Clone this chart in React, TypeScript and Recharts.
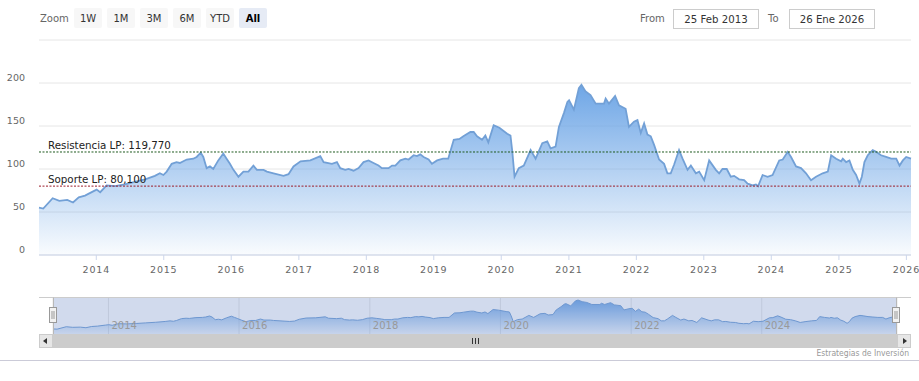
import {
    AreaChart,
    Area,
    XAxis,
    YAxis,
    CartesianGrid,
    ReferenceLine,
    ReferenceArea,
} from "recharts";

const dates = [
    "2013-02-25", "2013-03-20", "2013-05-10", "2013-06-15", "2013-07-28", "2013-08-28", "2013-09-28", "2013-11-01", "2013-12-15",
    "2014-01-03", "2014-01-22", "2014-02-26", "2014-04-12", "2014-06-05", "2014-07-28", "2014-09-22", "2014-11-14", "2014-12-11", "2014-12-30",
    "2015-01-17", "2015-02-13", "2015-03-11", "2015-03-29", "2015-05-05", "2015-06-10", "2015-06-28", "2015-07-20", "2015-08-03", "2015-08-21",
    "2015-09-08", "2015-09-26", "2015-10-23", "2015-11-19", "2015-12-07", "2015-12-25",
    "2016-01-13", "2016-02-09", "2016-03-07", "2016-04-03", "2016-04-30", "2016-05-19", "2016-06-24", "2016-07-12", "2016-08-17", "2016-10-10",
    "2016-11-06", "2016-12-03",
    "2017-01-10", "2017-03-04", "2017-04-27", "2017-05-15", "2017-06-29", "2017-07-26", "2017-08-13", "2017-09-09", "2017-09-27", "2017-10-24",
    "2017-11-20", "2017-12-17",
    "2018-01-13", "2018-02-09", "2018-03-08", "2018-03-26", "2018-05-01", "2018-05-20", "2018-06-07", "2018-07-04", "2018-07-31", "2018-08-18",
    "2018-09-14", "2018-10-02", "2018-10-20", "2018-11-07", "2018-12-04", "2018-12-22",
    "2019-01-19", "2019-02-20", "2019-03-20", "2019-04-19", "2019-05-20", "2019-06-10", "2019-07-18", "2019-08-05", "2019-08-23", "2019-09-19",
    "2019-10-07", "2019-10-23", "2019-11-21", "2019-12-22",
    "2020-02-02", "2020-02-20", "2020-03-01", "2020-03-13", "2020-04-05", "2020-05-02", "2020-06-08", "2020-07-05", "2020-08-10", "2020-09-06",
    "2020-09-24", "2020-10-21", "2020-11-08", "2020-12-05", "2020-12-24",
    "2021-01-02", "2021-01-28", "2021-02-24", "2021-03-10", "2021-04-02", "2021-04-28", "2021-05-26", "2021-07-10", "2021-07-19", "2021-08-06",
    "2021-09-08", "2021-09-29", "2021-11-04", "2021-11-22", "2021-12-19",
    "2022-01-07", "2022-01-25", "2022-02-12", "2022-03-02", "2022-03-20", "2022-04-07", "2022-05-04", "2022-05-31", "2022-06-18", "2022-07-06",
    "2022-07-24", "2022-08-20", "2022-09-08", "2022-10-05", "2022-10-23", "2022-11-19", "2022-12-07",
    "2023-01-03", "2023-01-30", "2023-03-07", "2023-03-25", "2023-04-12", "2023-05-05", "2023-05-27", "2023-06-14", "2023-07-11", "2023-08-07",
    "2023-08-26", "2023-09-22", "2023-10-10", "2023-10-22", "2023-11-15", "2023-12-12",
    "2024-01-08", "2024-02-13", "2024-03-03", "2024-03-30", "2024-04-17", "2024-05-14", "2024-06-10", "2024-07-07", "2024-08-03", "2024-08-30",
    "2024-10-05", "2024-11-02", "2024-11-20", "2024-12-17",
    "2025-01-13", "2025-01-22", "2025-02-09", "2025-02-27", "2025-03-17", "2025-04-04", "2025-04-22", "2025-05-05", "2025-05-19", "2025-06-06",
    "2025-07-03", "2025-07-21", "2025-08-17", "2025-09-13", "2025-10-11", "2025-11-07", "2025-11-25", "2025-12-13", "2025-12-31",
    "2026-01-26",
];

const prices = [
    55, 54, 66, 63, 64, 61, 67, 69, 74,
    76, 73, 81, 80, 82, 85, 88, 92, 95, 93,
    97, 106, 108, 107, 111, 112, 114, 119, 114, 101,
    103, 100, 110, 118, 112, 106,
    99, 91, 97, 97, 104, 99, 99, 97, 95, 92,
    94, 103,
    109, 110, 115, 108, 106, 108, 101, 99, 100, 98,
    101, 108,
    110, 107, 104, 101, 101, 104, 104, 110, 112, 111,
    116, 115, 117, 114, 111, 106,
    110, 112, 112, 134, 135, 138, 143, 143, 138, 134,
    139, 131, 151, 148,
    141, 139, 120, 91, 101, 104, 122, 112, 130, 132,
    124, 126, 149, 165, 178,
    180, 169, 194, 198, 190, 186, 176, 176, 182, 176,
    185, 174, 170, 149, 155,
    157, 142, 153, 140, 138, 128, 111, 106, 95, 95,
    105, 122, 112, 99, 104, 95, 97,
    87, 110, 99, 95, 100, 100, 91, 92, 88, 87,
    83, 81, 82, 80, 93, 91,
    93, 110, 111, 120, 114, 103, 101, 95, 87, 91,
    95, 97, 116, 112,
    109, 112, 108, 110, 99, 93, 83, 91, 108, 116,
    122, 120, 116, 114, 112, 112, 104, 110, 114,
    112,
];

const yearTicks = [2014, 2015, 2016, 2017, 2018, 2019, 2020, 2021, 2022, 2023, 2024, 2025, 2026];
const navYears = [2014, 2016, 2018, 2020, 2022, 2024];
const yTicks = [0, 50, 100, 150, 200, 250];
const zoomButtons = ["1W", "1M", "3M", "6M", "YTD", "All"];

const resistance = 119.77;
const support = 80.1;
const fromLabel = "25 Feb 2013";
const toLabel = "26 Ene 2026";

const data = dates.map((d, i) => ({ t: Date.parse(d), v: prices[i] }));
const startTs = data[0].t;
const endTs = data[data.length - 1].t;
const yearTs = yearTicks.map((y) => Date.UTC(y, 0, 1));
const navTs = navYears.map((y) => Date.UTC(y, 0, 1));

const FONT = "'DejaVu Sans', Verdana, sans-serif";

const YTick = (props: any) => {
    const { y, payload } = props;
    if (payload.value === 250) return <g />;
    return (
        <text x={25} y={y - 5} dy="0.35em" textAnchor="end" fill="#666" fontSize={9.5} fontFamily={FONT}>
            {payload.value}
        </text>
    );
};

const XTick = (props: any) => {
    const { x, payload } = props;
    return (
        <text x={x} y={270} dy="0.35em" textAnchor="middle" fill="#666" fontSize={9.5} letterSpacing={0.8} fontFamily={FONT}>
            {new Date(payload.value).getUTCFullYear()}
        </text>
    );
};

// navigator labels sit inside the strip, just right of their grid line
const NavTick = (props: any) => {
    const { x, payload } = props;
    return (
        <text x={x + 3} y={32} fill="#999" fontSize={10} fontFamily={FONT}>
            {new Date(payload.value).getUTCFullYear()}
        </text>
    );
};

const LevelLabel = (props: any) => {
    const { viewBox, text } = props;
    if (!viewBox) return null;
    return (
        <text x={viewBox.x + 9} y={viewBox.y - 3} fill="#222" fontSize={10.3} fontFamily={FONT}>
            {text}
        </text>
    );
};

function Chrome() {
    return (
        <svg width={919} height={381} style={{ position: "absolute", left: 0, top: 0, pointerEvents: "none" }}>
            {/* range selector */}
            <text x={40} y={22} fill="#666" fontSize={10} fontFamily={FONT}>Zoom</text>
            {zoomButtons.map((b, i) => {
                const x = 74 + i * 33;
                const sel = b === "All";
                return (
                    <g key={b}>
                        <rect x={x} y={8} width={28} height={20} rx={2} fill={sel ? "#e6ebf5" : "#f7f7f7"} />
                        <text x={x + 14} y={22} textAnchor="middle" fill={sel ? "#000" : "#333"} fontWeight={sel ? "bold" : "normal"} fontSize={10} fontFamily={FONT}>
                            {b}
                        </text>
                    </g>
                );
            })}
            <text x={640} y={22} fill="#666" fontSize={10} fontFamily={FONT}>From</text>
            <rect x={673.5} y={9.5} width={85} height={19} fill="#fff" stroke="#ccc" />
            <text x={716} y={23} textAnchor="middle" fill="#333" fontSize={10.2} fontFamily={FONT}>{fromLabel}</text>
            <text x={768} y={22} fill="#666" fontSize={10} fontFamily={FONT}>To</text>
            <rect x={789.5} y={9.5} width={85} height={19} fill="#fff" stroke="#ccc" />
            <text x={832} y={23} textAnchor="middle" fill="#333" fontSize={10.2} fontFamily={FONT}>{toLabel}</text>

            {/* navigator outline + handles */}
            <path d="M39 297.5 H911" stroke="#ccc" />
            <path d="M53.5 297.5 V334 M896.5 297.5 V334" stroke="#b8b8b8" />
            {[50, 893].map((hx) => (
                <g key={hx}>
                    <rect x={hx - 0.5} y={307.5} width={7} height={15} fill="#f2f2f2" stroke="#999" />
                    <path d={`M${hx + 2} 311 V319 M${hx + 4} 311 V319`} stroke="#999" />
                </g>
            ))}

            {/* scrollbar */}
            <rect x={39} y={334} width={872} height={14} fill="#f2f2f2" />
            <rect x={53} y={334} width={844} height={14} fill="#cccccc" />
            <rect x={39.5} y={334.5} width={13} height={13} fill="#e6e6e6" stroke="#ccc" />
            <rect x={897.5} y={334.5} width={13} height={13} fill="#e6e6e6" stroke="#ccc" />
            <path d="M47 338 L43 341 L47 344 Z" fill="#333" />
            <path d="M903 338 L907 341 L903 344 Z" fill="#333" />
            <path d="M472.5 338 V344 M475.5 338 V344 M478.5 338 V344" stroke="#333" />

            {/* credits + bottom rule */}
            <text x={909} y={356} textAnchor="end" fill="#999" fontSize={8.5} fontFamily="'DejaVu Sans Condensed', 'DejaVu Sans', sans-serif">
                Estrategias de Inversión
            </text>
            <path d="M0 360.5 H919" stroke="#cbcbd8" />
        </svg>
    );
}

export default function App() {
    return (
        <div style={{ position: "relative", width: 919, height: 381, background: "#fff", overflow: "hidden" }}>
            <style>{"body{margin:0}"}</style>

            <div style={{ position: "absolute", left: 0, top: 0 }}>
                <AreaChart width={919} height={281} data={data} margin={{ top: 40, right: 8, bottom: 0, left: 0 }}>
                    <defs>
                        <linearGradient id="mainFill" x1="0" y1="0" x2="0" y2="1">
                            <stop offset="0%" stopColor="#6ea6e6" stopOpacity={1} />
                            <stop offset="100%" stopColor="#6ea6e6" stopOpacity={0.04} />
                        </linearGradient>
                    </defs>
                    <CartesianGrid vertical={false} stroke="#e6e6e6" />
                    <XAxis
                        dataKey="t"
                        type="number"
                        scale="time"
                        domain={[startTs, endTs]}
                        ticks={yearTs}
                        interval={0}
                        height={26}
                        stroke="#ccd6eb"
                        tickSize={5}
                        tick={<XTick />}
                    />
                    <YAxis
                        domain={[0, 250]}
                        ticks={yTicks}
                        interval={0}
                        width={39}
                        axisLine={false}
                        tickLine={false}
                        tick={<YTick />}
                    />
                    <Area
                        type="linear"
                        dataKey="v"
                        stroke="#72a0d6"
                        strokeWidth={1.8}
                        fill="url(#mainFill)"
                        fillOpacity={1}
                        dot={false}
                        activeDot={false}
                        isAnimationActive={false}
                    />
                    <ReferenceLine
                        y={resistance}
                        stroke="#1e5a1e"
                        strokeDasharray="2 1.5"
                        label={<LevelLabel text="Resistencia LP: 119,770" />}
                    />
                    <ReferenceLine
                        y={support}
                        stroke="#9c1c2a"
                        strokeDasharray="2 1.5"
                        label={<LevelLabel text="Soporte LP: 80,100" />}
                    />
                </AreaChart>
            </div>

            <div style={{ position: "absolute", left: 0, top: 297 }}>
                <AreaChart width={919} height={50} data={data} margin={{ top: 0, right: 22, bottom: 0, left: 53 }}>
                    <defs>
                        <linearGradient id="navFill" x1="0" y1="0" x2="0" y2="1">
                            <stop offset="0%" stopColor="#6ea6e6" stopOpacity={1} />
                            <stop offset="100%" stopColor="#6ea6e6" stopOpacity={0.1} />
                        </linearGradient>
                    </defs>
                    <CartesianGrid horizontal={false} stroke="#e6e6e6" />
                    <XAxis
                        dataKey="t"
                        type="number"
                        scale="time"
                        domain={[startTs, endTs]}
                        ticks={navTs}
                        interval={0}
                        height={13}
                        axisLine={false}
                        tickLine={false}
                        tick={<NavTick />}
                    />
                    <YAxis hide domain={[30, 213]} />
                    <Area
                        type="linear"
                        dataKey="v"
                        stroke="#72a0d6"
                        strokeWidth={1}
                        fill="url(#navFill)"
                        fillOpacity={1}
                        dot={false}
                        activeDot={false}
                        isAnimationActive={false}
                    />
                    <ReferenceArea x1={startTs} x2={endTs} fill="#6685c2" fillOpacity={0.3} stroke="none" ifOverflow="visible" />
                </AreaChart>
            </div>

            <Chrome />
        </div>
    );
}
